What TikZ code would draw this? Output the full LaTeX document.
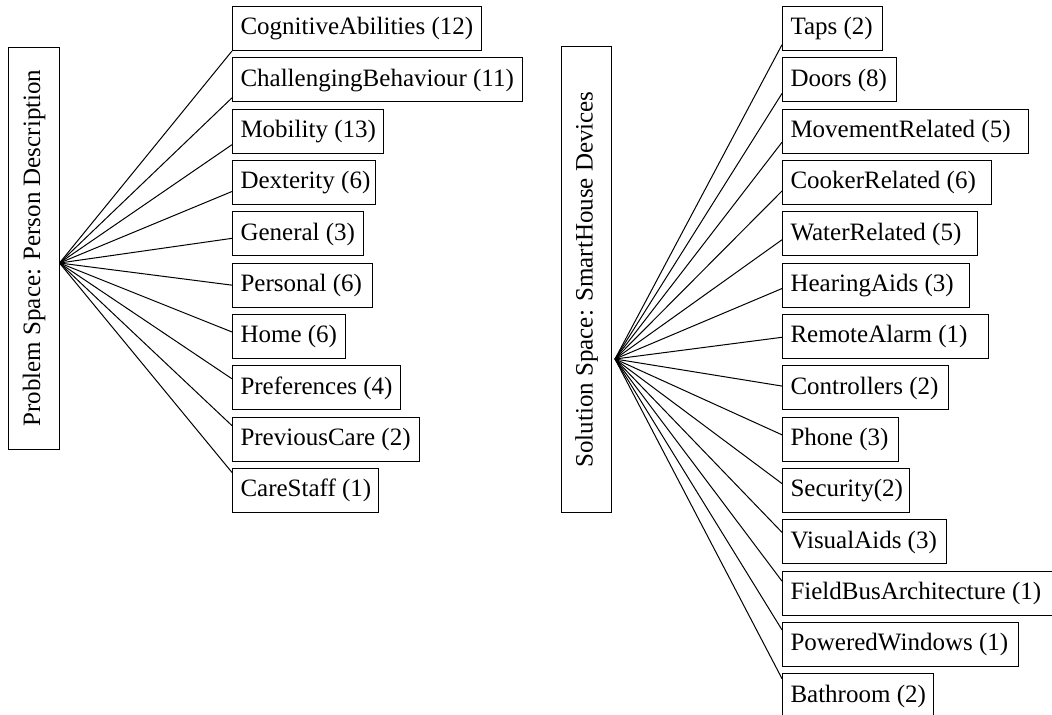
\documentclass[tikz,border=0pt]{standalone}
\usepackage{fontspec}
\setmainfont{Liberation Serif}
\usetikzlibrary{calc}
\tikzset{
	leaf/.style={draw,anchor=north west,inner xsep=3.2pt,inner ysep=3.8pt,text height=7.5pt,text depth=2.5pt},
	space/.style={draw,rotate=90,minimum height=20pt,inner sep=0pt}
}
\begin{document}
\begin{tikzpicture}[x=0.4pt,y=-0.4pt]
		\useasboundingbox (0,0) rectangle (1052,714);
		% problem space
		\node[space,minimum width=160.8pt] (prob) at (34,248) {Problem Space: Person Description};
		\coordinate (pfan) at ($(prob.south)+(0,15)$);
		\foreach \lbl/\w [count=\i] in {CognitiveAbilities (12)/249,ChallengingBehaviour (11)/290,Mobility (13)/151,Dexterity (6)/143,General (3)/131,Personal (6)/140,Home (6)/113,Preferences (4)/168,PreviousCare (2)/187,CareStaff (1)/146}{
			\pgfmathsetmacro\tw{\w*0.4-6.4}
			\pgfmathsetmacro\ty{6+51.33*(\i-1)}
			\pgfmathsetmacro\fr{(\i-1)/10}
			\node[leaf] (p\i) at (232,\ty) {\makebox[\tw pt][l]{\lbl}};
			\draw (pfan) -- ($(p\i.south west)!\fr!(p\i.north west)$);
		}
		% solution space
		\node[space,minimum width=186pt] (sol) at (586.5,279.5) {Solution Space: SmartHouse Devices};
		\coordinate (sfan) at ($(sol.south)+(3,79.5)$);
		\foreach \lbl/\w [count=\i] in {Taps (2)/100,Doors (8)/114,MovementRelated (5)/246,CookerRelated (6)/209,WaterRelated (5)/195,HearingAids (3)/187,RemoteAlarm (1)/206,Controllers (2)/166,Phone (3)/116,Security(2)/127,VisualAids (3)/164,FieldBusArchitecture (1)/270,PoweredWindows (1)/236,Bathroom (2)/151}{
			\pgfmathsetmacro\tw{\w*0.4-6.4}
			\pgfmathsetmacro\ty{6+51.33*(\i-1)}
			\pgfmathsetmacro\fr{0.14+0.057*(\i-1)}
			\node[leaf] (s\i) at (782,\ty) {\makebox[\tw pt][l]{\lbl}};
			\draw (sfan) -- ($(s\i.south west)!\fr!(s\i.north west)$);
		}
	\end{tikzpicture}
\end{document}
